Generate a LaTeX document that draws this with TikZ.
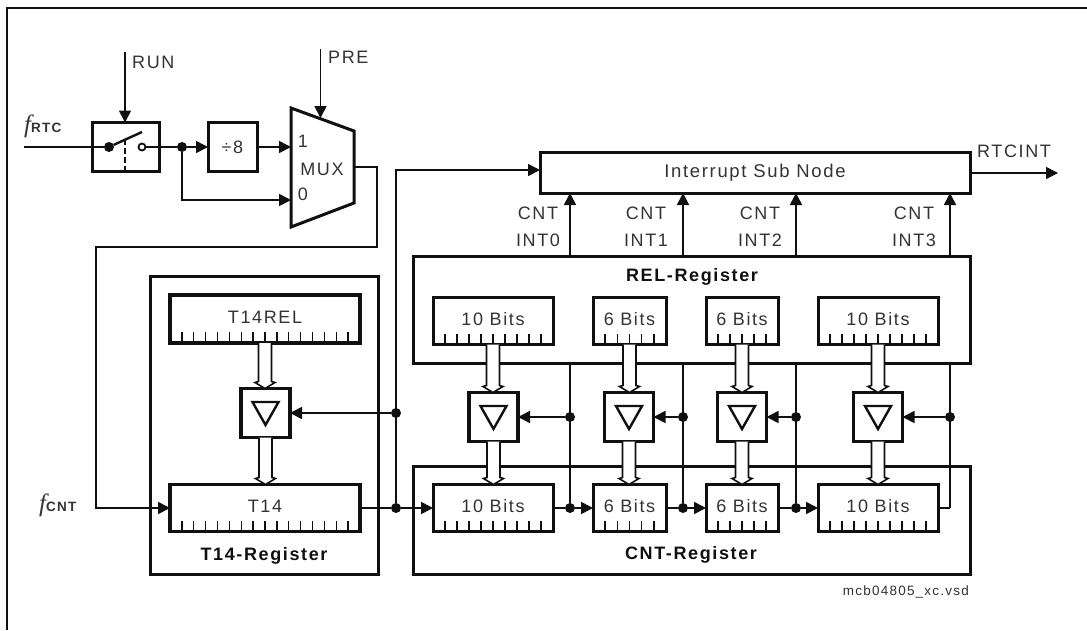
\documentclass[tikz,border=0pt]{standalone}
\usepackage{fontspec}
\setmainfont{Liberation Sans}[LetterSpace=9]
\newfontfamily\serifit{Liberation Serif}
\usetikzlibrary{arrows.meta,calc}
\definecolor{ink}{HTML}{101010}
\definecolor{txt}{HTML}{333333}
\newcommand{\regticks}[2]{%
  \foreach \i in {1,...,#2}{%
    \pgfmathsetmacro{\t}{\i/(#2+1)}%
    \draw[tick] ($(#1.south west)!\t!(#1.south east)$) -- ++(0,-11);}}
\newcommand{\buffertri}[1]{%
  \draw[tri] (#1.center) ++(-13,-11) -- ++(26,0) -- ++(-13,23) -- cycle;}
\tikzset{
  x=1pt,y=-1pt,
  wire/.style={draw=ink,line width=1.7pt},
  awire/.style={wire,-{Triangle[length=12pt,width=12pt]}},
  box/.style={draw=ink,line width=3pt,inner sep=0pt,outer sep=0pt,fill=white,
    font=\fontsize{18}{20}\selectfont,text=txt},
  thick box/.style={box,line width=3.8pt},
  outerbox/.style={draw=ink,line width=3pt,inner sep=0pt,outer sep=0pt},
  reg/.style={box,minimum height=47pt},
  bufbox/.style={box,minimum width=49pt,minimum height=49pt},
  tick/.style={draw=ink,line width=1.4pt},
  tri/.style={draw=ink,line width=2.4pt,line join=miter},
  dot/.style={circle,fill=ink,inner sep=0pt,minimum size=10pt,outer sep=0pt},
  lab/.style={inner sep=0pt,text=txt,font=\fontsize{18}{27}\selectfont},
  blab/.style={inner sep=0pt,text=ink,font=\fontsize{18}{20}\selectfont\bfseries},
  bus/.style={draw=ink,fill=white,line width=1.6pt,to path={
    let \p1=(\tikztostart),\p2=(\tikztotarget) in
    (\x1-6.5pt,\y1) -- (\x1-6.5pt,\y2+7pt) -- (\x1-10pt,\y2+6pt) -- (\x1,\y2)
    -- (\x1+10pt,\y2+6pt) -- (\x1+6.5pt,\y2+7pt) -- (\x1+6.5pt,\y1)}},
}
\begin{document}
\begin{tikzpicture}
\useasboundingbox (0,0) rectangle (1087,630);
\fill[white] (0,0) rectangle (1087,630);
% page frame
\coordinate (frameBL) at (7,630);
\coordinate (frameTL) at (7,8);
\coordinate (frameTR) at (1087,8);
\draw[draw=ink,line width=2.2pt] (frameBL) -- (frameTL) -- (frameTR);

% register groups
\node[outerbox,minimum width=228pt,minimum height=298pt] (t14group) at (264,425) {};
\node[outerbox,minimum width=557pt,minimum height=107pt] (relgroup) at (691.5,309.5) {};
\node[outerbox,minimum width=557pt,minimum height=108pt] (cntgroup) at (691.5,520.5) {};
\node[blab] (t14title) at (264,556) {T14-Register};
\node[blab] (reltitle) at (692,277) {REL-Register};
\node[blab] (cnttitle) at (691,555) {CNT-Register};

% top control
\node[box,minimum width=67pt,minimum height=49pt] (switch) at (125.5,147) {};
\node[box,minimum width=49pt,minimum height=49pt] (div) at (232.5,147) {÷8};
\coordinate (muxA) at (291,108);
\coordinate (muxB) at (354,131);
\coordinate (muxC) at (354,203);
\coordinate (muxD) at (291,227);
\draw[draw=ink,line width=3pt,line join=miter] (muxA) -- (muxB) -- (muxC) -- (muxD) -- cycle;
\coordinate (mux1) at (291,147);
\coordinate (mux0) at (291,200);
\coordinate (muxout) at (354,167);
\coordinate (muxpre) at (320.5,118);
\node[lab] (m1) at (303,141) {1};
\node[lab] (mtxt) at (322,169) {MUX};
\node[lab] (m0) at (303,194) {0};

% interrupt sub node
\node[box,minimum width=430pt,minimum height=41pt] (isn) at (755,172.5) {\raisebox{2pt}{\fontsize{18.5}{20}\selectfont Interrupt Sub Node}};
\coordinate (isnin) at (540,170);
\coordinate (rtcout) at (1058,173);
\coordinate (isnE) at (970,173);

% registers
\node[reg,thick box,minimum width=190pt,minimum height=48pt] (t14rel) at (265,319) {\raisebox{4pt}{T14REL}};
\node[reg,thick box,minimum width=190pt] (t14) at (265,508) {\raisebox{4pt}{T14}};
\node[reg,minimum width=120pt] (rel0) at (493,321) {\raisebox{4pt}{10 Bits}};
\node[reg,minimum width=73pt] (rel1) at (629.5,321) {\raisebox{4pt}{6 Bits}};
\node[reg,minimum width=72pt] (rel2) at (742,321) {\raisebox{4pt}{6 Bits}};
\node[reg,minimum width=120pt] (rel3) at (878,321) {\raisebox{4pt}{10 Bits}};
\node[reg,minimum width=120pt] (cnt0) at (493,508) {\raisebox{4pt}{10 Bits}};
\node[reg,minimum width=73pt] (cnt1) at (629.5,508) {\raisebox{4pt}{6 Bits}};
\node[reg,minimum width=72pt] (cnt2) at (742,508) {\raisebox{4pt}{6 Bits}};
\node[reg,minimum width=120pt] (cnt3) at (878,508) {\raisebox{4pt}{10 Bits}};
\regticks{t14rel}{15}\regticks{t14}{15}
\regticks{rel0}{9}\regticks{rel1}{5}\regticks{rel2}{5}\regticks{rel3}{9}
\regticks{cnt0}{9}\regticks{cnt1}{5}\regticks{cnt2}{5}\regticks{cnt3}{9}

% buffers
\node[bufbox,thick box] (buft) at (265.5,413) {};
\node[bufbox,thick box] (buf0) at (493.5,417) {};
\node[bufbox] (buf1) at (629,417) {};
\node[bufbox,thick box] (buf2) at (742,417) {};
\node[bufbox] (buf3) at (878,417) {};
\buffertri{buft}\buffertri{buf0}\buffertri{buf1}\buffertri{buf2}\buffertri{buf3}

% junctions
\node[dot] (jsw) at (182,147) {};
\node[dot] (jt) at (396,508) {};
\node[dot] (jtb) at (396,413) {};
\node[dot] (j0b) at (570,417) {};
\node[dot] (j1b) at (683,417) {};
\node[dot] (j2b) at (796,417) {};
\node[dot] (j3b) at (950,417) {};
\node[dot] (j0) at (570,508) {};
\node[dot] (j1) at (683,508) {};
\node[dot] (j2) at (796,508) {};
\coordinate (c3) at (950,508);

% switch internals
\coordinate (fin) at (24,147);
\coordinate (run) at (125,52);
\coordinate (pre) at (320.5,49);
\node[dot] (swpivot) at (109,147) {};
\node[circle,draw=ink,line width=1.8pt,fill=white,inner sep=0pt,minimum size=7pt] (swpole) at (142,147) {};
\coordinate (swtip) at (142,132);
\coordinate (dashA) at (125,139);
\coordinate (dashB) at (125,170);
\draw[wire] (fin) -- (swpivot);
\draw[draw=ink,line width=2.4pt] (swpivot) -- (swtip);
\draw[draw=ink,line width=1.4pt,dash pattern=on 6pt off 3pt] (dashA) -- (dashB);
\draw[wire] (swpole) -- (jsw);
\draw[awire] (run) -- (switch.north -| run);
\draw[awire] (pre) -- (muxpre);
\draw[awire] (jsw) -- (div.west);
\draw[awire] (div.east) -- (mux1);
\draw[awire] (jsw) |- (mux0);
\coordinate (mo1) at (377,167);
\coordinate (mo2) at (377,247);
\coordinate (mo3) at (96,247);
\coordinate (mo4) at (96,508);
\draw[awire] (muxout) -- (mo1) -- (mo2) -- (mo3) -- (mo4) -- (t14.west);

% buses between registers and buffers
\path[bus] (t14rel.south) to (buft.north);
\path[bus] (buft.south) to (t14.north);
\path[bus] (rel0.south) to (buf0.north);
\path[bus] (buf0.south) to (cnt0.north);
\path[bus] (rel1.south) to (buf1.north);
\path[bus] (buf1.south) to (cnt1.north);
\path[bus] (rel2.south) to (buf2.north);
\path[bus] (buf2.south) to (cnt2.north);
\path[bus] (rel3.south) to (buf3.north);
\path[bus] (buf3.south) to (cnt3.north);

% count chain and interrupts
\draw[wire] (t14.east) -- (jt);
\draw[awire] (jt) -- (cnt0.west);
\draw[awire] (jt) -- (jt |- isnin) -- (isnin);
\draw[awire] (jtb) -- (buft.east);
\draw[wire] (cnt0.east) -- (j0);
\draw[awire] (j0) -- (cnt1.west);
\draw[wire] (cnt1.east) -- (j1);
\draw[awire] (j1) -- (cnt2.west);
\draw[wire] (cnt2.east) -- (j2);
\draw[awire] (j2) -- (cnt3.west);
\draw[wire] (cnt3.east) -- (c3);
\draw[wire] (j0) -- (j0 |- relgroup.south);
\draw[wire] (j1) -- (j1 |- relgroup.south);
\draw[wire] (j2) -- (j2 |- relgroup.south);
\draw[wire] (c3) -- (c3 |- relgroup.south);
\draw[awire] (j0 |- relgroup.north) -- (j0 |- isn.south);
\draw[awire] (j1 |- relgroup.north) -- (j1 |- isn.south);
\draw[awire] (j2 |- relgroup.north) -- (j2 |- isn.south);
\draw[awire] (c3 |- relgroup.north) -- (c3 |- isn.south);
\draw[awire] (j0b) -- (buf0.east);
\draw[awire] (j1b) -- (buf1.east);
\draw[awire] (j2b) -- (buf2.east);
\draw[awire] (j3b) -- (buf3.east);
\draw[awire] (isnE) -- (rtcout);

% labels
\node[lab,anchor=west] (runl) at (132,62) {RUN};
\node[lab,anchor=west] (prel) at (328,57) {PRE};
\node[lab,anchor=west] (rtcl) at (977,151) {RTCINT};
\node[lab,align=center] (i0) at (538,226.5) {CNT\\INT0};
\node[lab,align=center] (i1) at (646,226.5) {CNT\\INT1};
\node[lab,align=center] (i2) at (760,226.5) {CNT\\INT2};
\node[lab,align=center] (i3) at (914,226.5) {CNT\\INT3};
\node[lab,anchor=base west] (frtc) at (24,132) {{\fontsize{25}{25}\serifit\itshape f}\kern0pt{\fontsize{13.5}{14}\selectfont\bfseries RTC}};
\node[lab,anchor=base west] (fcnt) at (39,511) {{\fontsize{25}{25}\serifit\itshape f}\kern0pt{\fontsize{13.5}{14}\selectfont\bfseries CNT}};
\node[lab,anchor=east,font=\fontsize{13.5}{14}\selectfont] (file) at (969,592) {mcb04805\_xc.vsd};
\end{tikzpicture}
\end{document}
